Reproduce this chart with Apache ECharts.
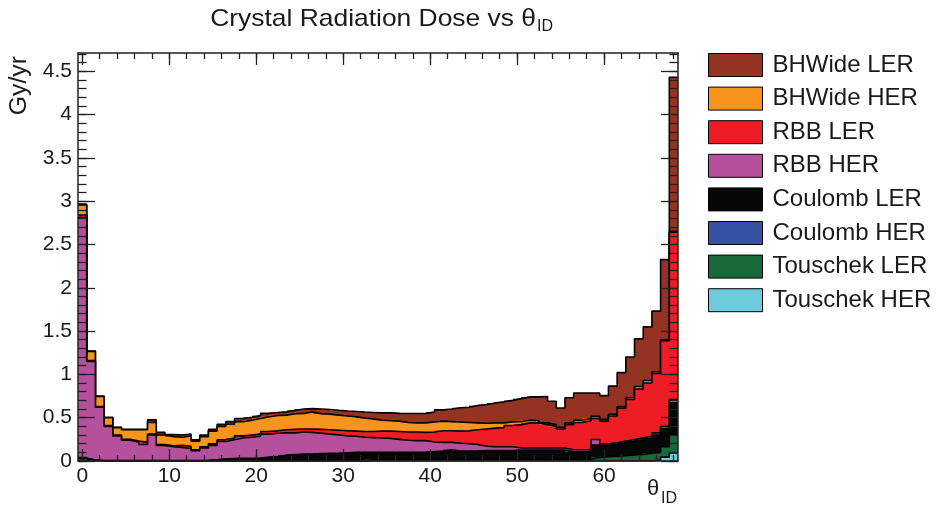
<!DOCTYPE html>
<html>
<head>
<meta charset="utf-8">
<script src="https://cdn.jsdelivr.net/npm/echarts@6/dist/echarts.min.js"></script>
<style>
  html, body { margin: 0; padding: 0; background: #ffffff; }
  #chart { width: 940px; height: 508px; }
</style>
</head>
<body>
<div id="chart"></div>
<script>
// Crystal ring index θ_ID (one bin per ring)
const thetaId = [
  0, 1, 2, 3, 4, 5, 6, 7, 8, 9, 10, 11, 12, 13, 14, 15, 16, 17, 18, 19,
  20, 21, 22, 23, 24, 25, 26, 27, 28, 29, 30, 31, 32, 33, 34, 35, 36, 37, 38, 39,
  40, 41, 42, 43, 44, 45, 46, 47, 48, 49, 50, 51, 52, 53, 54, 55, 56, 57, 58, 59,
  60, 61, 62, 63, 64, 65, 66, 67, 68
];

// Dose per background source, Gy/yr (stacked bottom to top in this order)
const touschekHER = [
  0, 0, 0, 0, 0, 0, 0, 0, 0, 0, 0, 0, 0, 0, 0, 0, 0, 0, 0, 0,
  0, 0, 0, 0, 0, 0, 0, 0, 0, 0, 0, 0, 0, 0, 0, 0, 0, 0, 0, 0,
  0, 0, 0, 0, 0, 0, 0, 0, 0, 0, 0, 0, 0, 0, 0, 0, 0, 0, 0, 0,
  0, 0, 0, 0, 0, 0, 0.01, 0.045, 0.094
];
const touschekLER = [
  0.03, 0.01, 0, 0, 0, 0, 0, 0, 0, 0, 0, 0, 0, 0, 0, 0, 0, 0, 0, 0,
  0, 0, 0, 0, 0, 0, 0, 0, 0, 0, 0, 0, 0, 0.015, 0.015, 0.015, 0.015, 0.015, 0.015, 0.015,
  0.015, 0.015, 0.015, 0.015, 0.015, 0.015, 0.015, 0.015, 0.015, 0.015, 0.015, 0.015, 0.015, 0.015, 0.015, 0.015, 0.018, 0.02, 0.02, 0.04,
  0.05, 0.055, 0.06, 0.07, 0.075, 0.09, 0.09, 0.12, 0.212
];
const coulombHER = [
  0, 0, 0, 0, 0, 0, 0, 0, 0, 0, 0, 0, 0, 0, 0, 0, 0, 0, 0, 0,
  0, 0, 0, 0, 0, 0, 0, 0, 0, 0, 0, 0, 0, 0, 0, 0, 0, 0, 0, 0,
  0, 0, 0, 0, 0, 0, 0, 0, 0, 0, 0, 0, 0, 0, 0, 0, 0, 0, 0, 0,
  0, 0, 0, 0, 0, 0, 0, 0, 0
];
const coulombLER = [
  0.01, 0.005, 0.005, 0.005, 0.005, 0.005, 0.005, 0.005, 0.005, 0.005, 0.005, 0.005, 0.005, 0.005, 0.008, 0.015, 0.025, 0.028, 0.03, 0.032,
  0.035, 0.045, 0.05, 0.07, 0.075, 0.08, 0.08, 0.085, 0.09, 0.09, 0.095, 0.1, 0.1, 0.085, 0.085, 0.085, 0.085, 0.085, 0.085, 0.085,
  0.095, 0.1, 0.115, 0.1, 0.1, 0.1, 0.105, 0.105, 0.105, 0.105, 0.11, 0.11, 0.11, 0.11, 0.11, 0.11, 0.087, 0.085, 0.085, 0.145,
  0.13, 0.135, 0.15, 0.16, 0.17, 0.175, 0.2, 0.21, 0.365
];
const rbbHER = [
  2.77, 1.135, 0.615, 0.395, 0.285, 0.235, 0.215, 0.185, 0.295, 0.175, 0.16, 0.15, 0.14, 0.115, 0.142, 0.165, 0.2, 0.217, 0.235, 0.243,
  0.25, 0.265, 0.27, 0.255, 0.25, 0.255, 0.25, 0.235, 0.22, 0.21, 0.195, 0.185, 0.175, 0.17, 0.165, 0.16, 0.15, 0.14, 0.135, 0.135,
  0.11, 0.1, 0.085, 0.09, 0.085, 0.075, 0.05, 0.045, 0.045, 0.045, 0.025, 0.025, 0.025, 0.025, 0.025, 0.025, 0.025, 0.025, 0.025, 0.063,
  0.02, 0.02, 0.02, 0.018, 0.022, 0.021, 0.025, 0.025, 0.039
];
const rbbLER = [
  0.03, 0.01, 0.01, 0.01, 0.01, 0.01, 0.01, 0.025, 0.01, 0.01, 0.01, 0.025, 0.025, 0.01, 0.015, 0.02, 0.02, 0.02, 0.025, 0.025,
  0.025, 0.03, 0.03, 0.035, 0.04, 0.035, 0.04, 0.045, 0.05, 0.055, 0.06, 0.06, 0.065, 0.07, 0.08, 0.085, 0.09, 0.095, 0.1, 0.095,
  0.115, 0.135, 0.135, 0.14, 0.15, 0.17, 0.2, 0.215, 0.22, 0.245, 0.27, 0.29, 0.29, 0.27, 0.25, 0.22, 0.29, 0.315, 0.335, 0.242,
  0.26, 0.31, 0.38, 0.462, 0.563, 0.614, 0.685, 0.99, 1.93
];
const bhwideHER = [
  0.115, 0.105, 0.115, 0.09, 0.085, 0.11, 0.13, 0.145, 0.135, 0.11, 0.105, 0.095, 0.12, 0.1, 0.115, 0.145, 0.155, 0.16, 0.165, 0.17,
  0.18, 0.17, 0.175, 0.17, 0.18, 0.18, 0.195, 0.18, 0.18, 0.175, 0.17, 0.165, 0.155, 0.145, 0.125, 0.12, 0.12, 0.11, 0.105, 0.11,
  0.115, 0.11, 0.105, 0.105, 0.095, 0.08, 0.065, 0.06, 0.055, 0.04, 0.035, 0.03, 0.025, 0.02, 0.02, 0.02, 0.02, 0.025, 0.025, 0.025,
  0.02, 0.02, 0.02, 0.02, 0.03, 0.03, 0.02, 0.01, 0.012
];
const bhwideLER = [
  0.01, 0.005, 0.005, 0.005, 0.005, 0.005, 0.005, 0.005, 0.03, 0.03, 0.025, 0.025, 0.02, 0.015, 0.02, 0.02, 0.025, 0.03, 0.035, 0.035,
  0.035, 0.04, 0.035, 0.037, 0.04, 0.05, 0.04, 0.055, 0.055, 0.055, 0.058, 0.062, 0.07, 0.075, 0.085, 0.09, 0.09, 0.103, 0.108, 0.11,
  0.115, 0.13, 0.145, 0.165, 0.175, 0.2, 0.217, 0.23, 0.243, 0.25, 0.265, 0.27, 0.275, 0.305, 0.27, 0.222, 0.29, 0.315, 0.295, 0.27,
  0.275, 0.324, 0.39, 0.47, 0.55, 0.618, 0.7, 0.925, 1.778
];

// Axis tick positions and labels
const xMajorTicks = [0, 10, 20, 30, 40, 50, 60];
const xMinorTicks = [0, 2, 4, 6, 8, 10, 12, 14, 16, 18, 20, 22, 24, 26, 28, 30, 32, 34, 36, 38,
  40, 42, 44, 46, 48, 50, 52, 54, 56, 58, 60, 62, 64, 66, 68];
const yMajorTicks = [0, 0.5, 1, 1.5, 2, 2.5, 3, 3.5, 4, 4.5];
const yMinorTicks = [0, 0.1, 0.2, 0.3, 0.4, 0.5, 0.6, 0.7, 0.8, 0.9, 1, 1.1, 1.2, 1.3, 1.4, 1.5, 1.6, 1.7, 1.8, 1.9,
  2, 2.1, 2.2, 2.3, 2.4, 2.5, 2.6, 2.7, 2.8, 2.9, 3, 3.1, 3.2, 3.3, 3.4, 3.5, 3.6, 3.7, 3.8, 3.9,
  4, 4.1, 4.2, 4.3, 4.4, 4.5, 4.6, 4.7];

const FONT = 'Liberation Sans, Arial, Helvetica, sans-serif';
const INK = '#1a1a1a';

const layers = [
  { name: 'Touschek HER', data: touschekHER, color: '#6ccbdc' },
  { name: 'Touschek LER', data: touschekLER, color: '#17683a' },
  { name: 'Coulomb HER', data: coulombHER, color: '#3652a3' },
  { name: 'Coulomb LER', data: coulombLER, color: '#070707' },
  { name: 'RBB HER', data: rbbHER, color: '#b5519c' },
  { name: 'RBB LER', data: rbbLER, color: '#ee1d25' },
  { name: 'BHWide HER', data: bhwideHER, color: '#f7941d' },
  { name: 'BHWide LER', data: bhwideLER, color: '#943321' }
];

// Each stacked histogram is filled from zero up to its cumulative top;
// upper histograms sit underneath the lower ones, then a black step outline.
const series = [];
let running = thetaId.map(() => 0);
layers.forEach((layer, k) => {
  running = running.map((v, i) => v + layer.data[i]);
  const tops = running.slice();
  const zBase = 2 + (layers.length - 1 - k) * 2;
  const color = layer.color;
  series.push({
    type: 'custom',
    name: layer.name,
    z: zBase,
    silent: true,
    itemStyle: { color: color },
    encode: { x: 0, y: 1 },
    data: thetaId.map((t, i) => [t, tops[i]]),
    renderItem: function (params, api) {
      const t = api.value(0);
      const top = api.value(1);
      const a = api.coord([t - 0.5, top]);
      const b = api.coord([t + 0.5, 0]);
      const x0 = Math.round(a[0]);
      const x1 = Math.round(b[0]);
      return {
        type: 'rect',
        shape: { x: x0, y: a[1], width: x1 - x0, height: b[1] - a[1] },
        style: { fill: color }
      };
    }
  });
  const outline = [];
  thetaId.forEach((t, i) => {
    outline.push([t - 0.5, tops[i]]);
    outline.push([t + 0.5, tops[i]]);
  });
  series.push({
    type: 'line',
    name: layer.name + ' outline',
    z: zBase + 1,
    silent: true,
    symbol: 'none',
    data: outline,
    lineStyle: { color: '#000000', width: 1.6 }
  });
});

function xAxis(position, ticks, len, withLabels, withLine) {
  return {
    type: 'value', position: position, min: -0.5, max: 68.5, z: 30,
    splitLine: { show: false },
    axisLine: { show: withLine, onZero: false, lineStyle: { color: '#222', width: 1.5 } },
    axisTick: { show: true, inside: true, length: len, customValues: ticks, lineStyle: { color: '#222', width: 1.3 } },
    axisLabel: withLabels
      ? { show: true, customValues: xMajorTicks, margin: 5, fontSize: 21, fontFamily: FONT, color: INK }
      : { show: false }
  };
}
function yAxis(position, ticks, len, withLabels, withLine) {
  return {
    type: 'value', position: position, min: 0, max: 4.71, z: 30,
    splitLine: { show: false },
    axisLine: { show: withLine, onZero: false, lineStyle: { color: '#222', width: 1.5 } },
    axisTick: { show: true, inside: true, length: len, customValues: ticks, lineStyle: { color: '#222', width: 1.3 } },
    axisLabel: withLabels
      ? { show: true, customValues: yMajorTicks, margin: 6, fontSize: 21, fontFamily: FONT, color: INK,
          formatter: v => String(Math.round(v * 10) / 10) }
      : { show: false }
  };
}

const chart = echarts.init(document.getElementById('chart'), null, { renderer: 'canvas' });
chart.setOption({
  animation: false,
  backgroundColor: '#ffffff',
  grid: { left: 78, top: 53, width: 600, height: 408, containLabel: false },
  xAxis: [
    xAxis('bottom', xMajorTicks, 12, true, true),
    xAxis('bottom', xMinorTicks, 6, false, false),
    xAxis('top', xMajorTicks, 12, false, true),
    xAxis('top', xMinorTicks, 6, false, false)
  ],
  yAxis: [
    yAxis('left', yMajorTicks, 17, true, true),
    yAxis('left', yMinorTicks, 8.5, false, false),
    yAxis('right', yMajorTicks, 17, false, true),
    yAxis('right', yMinorTicks, 8.5, false, false)
  ],
  legend: {
    data: ['BHWide LER', 'BHWide HER', 'RBB LER', 'RBB HER', 'Coulomb LER', 'Coulomb HER', 'Touschek LER', 'Touschek HER'],
    orient: 'vertical',
    left: 708, top: 53,
    padding: 0,
    icon: 'rect',
    itemWidth: 54, itemHeight: 23, itemGap: 9.6,
    itemStyle: { borderColor: '#000000', borderWidth: 1 },
    textStyle: { fontSize: 24, lineHeight: 23, fontFamily: FONT, color: INK, padding: [0, 0, 0, 5] },
    selectedMode: false
  },
  graphic: [
    { type: 'text', x: 536, y: 7, scaleX: 1.1, style: { text: 'Crystal Radiation Dose vs θ', textAlign: 'right', textVerticalAlign: 'top', font: '24px ' + FONT, fill: INK } },
    { type: 'text', x: 537, y: 19, style: { text: 'ID', textAlign: 'left', textVerticalAlign: 'top', font: '16px ' + FONT, fill: INK } },
    { type: 'text', x: 20, y: 56, rotation: Math.PI / 2, scaleX: 1.08, style: { text: 'Gy/yr', textAlign: 'right', textVerticalAlign: 'middle', font: '23px ' + FONT, fill: INK } },
    { type: 'text', x: 647, y: 478, style: { text: 'θ', textAlign: 'left', textVerticalAlign: 'top', font: '22px ' + FONT, fill: INK } },
    { type: 'text', x: 661, y: 491, style: { text: 'ID', textAlign: 'left', textVerticalAlign: 'top', font: '16px ' + FONT, fill: INK } }
  ],
  series: series
});
</script>
</body>
</html>
